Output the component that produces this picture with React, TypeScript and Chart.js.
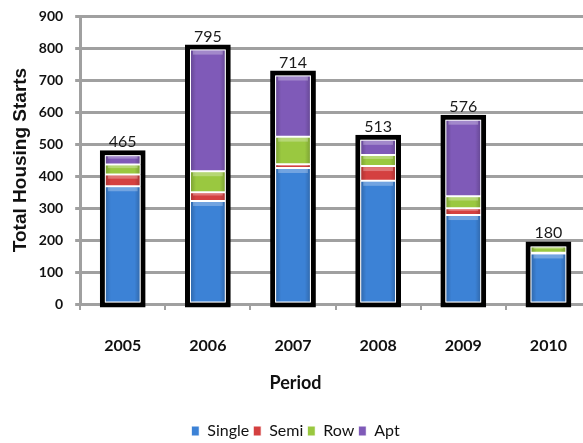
import React, { useEffect, useRef } from "react";
import { Chart, registerables } from "chart.js";

Chart.register(...registerables);

const categories = ["2005", "2006", "2007", "2008", "2009", "2010"];
const singleValues = [368, 322, 425, 385, 278, 158];
const semiValues = [37, 27, 12, 46, 21, 2];
const rowValues = [31, 66, 86, 35, 38, 20];
const aptValues = [29, 380, 191, 47, 239, 0];
const totalValues = [465, 795, 714, 513, 576, 180];
const yTicks = [0, 100, 200, 300, 400, 500, 600, 700, 800, 900];

const FONT = "Lato, 'Liberation Sans', sans-serif";
const GRID = "#a0a0a0";

const bevel = {
  id: "bevel",
  afterDatasetDraw(chart: any, args: any) {
    const ds = chart.data.datasets[args.index];
    if (ds.isTotal) return;
    const ctx = chart.ctx;
    ctx.save();
    args.meta.data.forEach((bar: any) => {
      const p = bar.getProps(["x", "y", "base", "width"], true);
      const left = p.x - p.width / 2 + 1;
      const w = p.width - 2;
      const top = Math.min(p.y, p.base) + 1;
      const h = Math.abs(p.base - p.y) - 2;
      if (h <= 1) return;
      const g = ctx.createLinearGradient(left, 0, left + w, 0);
      g.addColorStop(0, "rgba(0,0,0,0.18)");
      g.addColorStop(0.15, "rgba(0,0,0,0)");
      g.addColorStop(0.85, "rgba(0,0,0,0)");
      g.addColorStop(1, "rgba(0,0,0,0.18)");
      ctx.fillStyle = g;
      ctx.fillRect(left, top, w, h);
      ctx.fillStyle = "rgba(255,255,255,0.28)";
      ctx.fillRect(left + 2, top, w - 4, Math.min(4, h / 3));
    });
    ctx.restore();
  },
};

const totalLabels = {
  id: "totalLabels",
  afterDatasetsDraw(chart: any) {
    const idx = chart.data.datasets.findIndex((d: any) => d.isTotal);
    if (idx < 0) return;
    const meta = chart.getDatasetMeta(idx);
    const ctx = chart.ctx;
    ctx.save();
    ctx.font = `16px ${FONT}`;
    ctx.fillStyle = "#1a1a1a";
    ctx.textAlign = "center";
    ctx.textBaseline = "alphabetic";
    meta.data.forEach((bar: any, i: number) => {
      ctx.fillText(String(totalValues[i]), bar.x, bar.y - 8);
    });
    ctx.restore();
  },
};

export default function App() {
  const ref = useRef<HTMLCanvasElement>(null);
  useEffect(() => {
    if (!ref.current) return;
    const seg = (label: string, data: number[], color: string) => ({
      label,
      data,
      backgroundColor: color,
      borderColor: "#ffffff",
      borderWidth: 1,
      borderSkipped: false,
      stack: "parts",
      grouped: false,
      order: 0,
      barPercentage: 0.42,
      categoryPercentage: 1,
    });
    const chart = new Chart(ref.current, {
      type: "bar",
      data: {
        labels: categories,
        datasets: [
          seg("Single", singleValues, "#3c82d6"),
          seg("Semi", semiValues, "#d44040"),
          seg("Row", rowValues, "#9ac840"),
          seg("Apt", aptValues, "#7f5ab8"),
          {
            label: "Total",
            isTotal: true,
            data: totalValues,
            backgroundColor: "#ffffff",
            borderColor: "#000000",
            borderWidth: 5,
            borderSkipped: false,
            inflateAmount: 5,
            stack: "total",
            grouped: false,
            order: 1,
            clip: false,
            barPercentage: 0.42,
            categoryPercentage: 1,
          } as any,
        ],
      },
      options: {
        responsive: false,
        animation: false,
        layout: { padding: { top: 16, right: 0, left: 0, bottom: 0 } },
        scales: {
          x: {
            type: "category",
            stacked: true,
            offset: true,
            grid: {
              offset: true,
              drawOnChartArea: false,
              drawTicks: true,
              tickLength: 6,
              color: GRID,
              lineWidth: 2,
            },
            border: { display: false },
            ticks: {
              padding: 22.7,
              color: "#111",
              font: { family: FONT, size: 16, weight: "bold", lineHeight: 1.6 },
            },
          },
          y: {
            stacked: true,
            min: 0,
            max: 900,
            afterBuildTicks: (axis: any) => {
              axis.ticks = yTicks.map((v) => ({ value: v }));
            },
            grid: { color: GRID, lineWidth: 3, tickLength: 5 },
            border: { color: GRID, width: 3 },
            ticks: {
              padding: 12,
              color: "#111",
              font: { family: FONT, size: 14, weight: "bold", lineHeight: 0.5 },
            },
            title: {
              display: true,
              text: "Total Housing Starts",
              color: "#111",
              font: { family: "'Liberation Sans', Arial, sans-serif", size: 19, weight: "bold" },
              padding: { top: 9, bottom: -5 },
            },
          },
        },
        plugins: {
          title: {
            display: true,
            position: "bottom",
            text: "Period",
            weight: 500,
            color: "#111",
            font: { family: FONT, size: 18, weight: "bold" },
            padding: { top: -8.8, bottom: 25.2 },
          } as any,
          legend: {
            position: "bottom",
            labels: {
              filter: (item: any, data: any) => !data.datasets[item.datasetIndex].isTotal,
              boxWidth: 8,
              boxHeight: 10,
              padding: 4,
              color: "#111",
              font: { family: FONT, size: 16 },
            },
          },
          tooltip: { enabled: false },
        },
      },
      plugins: [bevel, totalLabels],
    });
    return () => chart.destroy();
  }, []);
  return (
    <div
      style={{
        position: "absolute",
        left: 0,
        top: 0,
        width: 583,
        height: 443,
        overflow: "hidden",
        background: "#fff",
      }}
    >
      <canvas ref={ref} width={591} height={449} style={{ display: "block" }} />
    </div>
  );
}
